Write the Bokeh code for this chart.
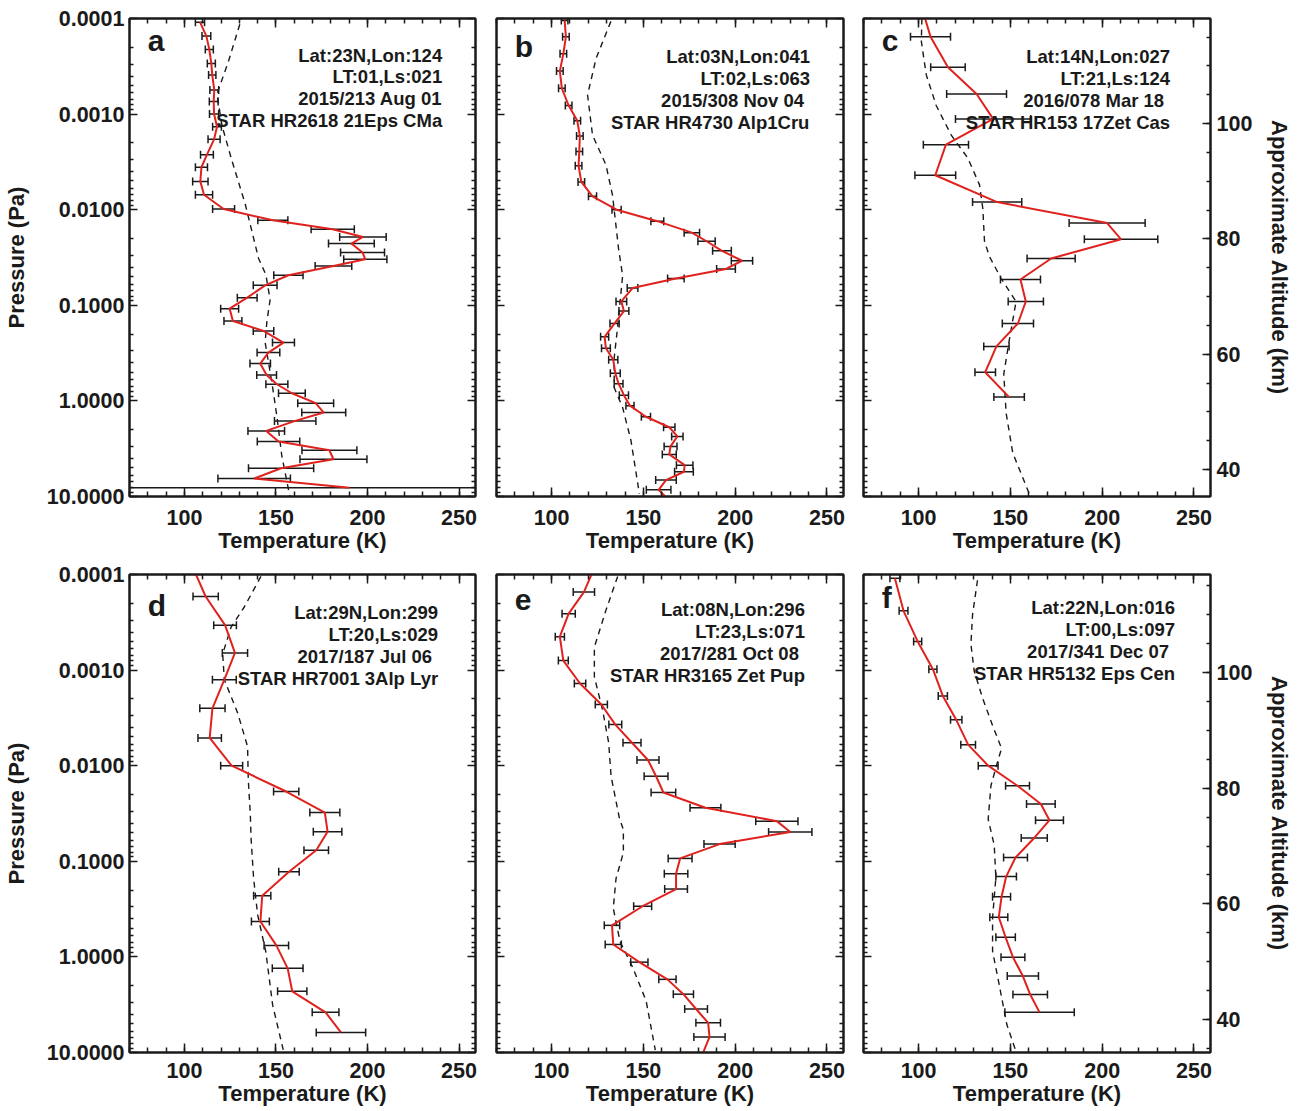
import math
import numpy as np
from bokeh.plotting import figure
from bokeh.layouts import row, column
from bokeh.models import (Range1d, LinearAxis, LogAxis, FixedTicker, SingleIntervalTicker,
                          PrintfTickFormatter, CustomJSTickFormatter, ColumnDataSource,
                          Label, LinearScale)
from bokeh.embed import file_html
from bokeh.resources import INLINE

# ---------------- data (temperature K, log10 pressure Pa, 1-sigma K) ----------------
a_T = [108.5, 112, 113.6, 114.7, 115.2, 116.3, 116, 116.2, 117.8, 116.2, 112.3, 109.3, 108.7, 110.7,
       121.4, 148.3, 181, 197.5, 191.2, 197.3, 198.8, 181.4, 156.8, 144.1, 134.3, 124.7, 126.5, 143.2,
       154.1, 145.9, 141.4, 144.9, 150.5, 158.7, 171.7, 176.1, 160.5, 144.7, 151.4, 179.2, 181.4,
       152.8, 138.1, 190.2]
a_logp = [-3.962, -3.816, -3.677, -3.528, -3.410, -3.253, -3.132, -3.0, -2.868, -2.736, -2.576,
          -2.444, -2.295, -2.156, -2.007, -1.889, -1.795, -1.715, -1.646, -1.553, -1.481, -1.411,
          -1.314, -1.209, -1.080, -0.965, -0.836, -0.732, -0.610, -0.505, -0.390, -0.272, -0.174,
          -0.080, 0.024, 0.122, 0.209, 0.314, 0.425, 0.516, 0.610, 0.704, 0.812, 0.909]
a_err = [2.5, 2.4, 2.2, 2.2, 2.0, 2.4, 2.4, 2.5, 2.4, 3.3, 3.5, 3.3, 4.2, 4.7, 6.0, 8.2, 11.8, 12.7,
         12.5, 12, 11.8, 10, 8, 6.5, 5.4, 4.9, 4.9, 5.6, 6, 6.2, 5.6, 5.4, 6, 7.3, 9.8, 12, 11.3, 10,
         11.6, 15, 18.3, 17.8, 19.8, 200]
a_dash_T = [132, 124.2, 117.8, 120.5, 126, 133.2, 140.5, 144.5, 146.8, 145, 144.1, 147.8, 150.5,
            153.2, 157.7]
a_dash_logp = [-4.05, -3.56, -3.21, -2.88, -2.51, -2.06, -1.49, -1.32, -1.06, -0.82, -0.61, -0.19,
               0.16, 0.575, 1.01]

b_T = [107.1, 107.8, 106.4, 104.5, 105.6, 109.3, 114, 115.4, 115.1, 114.7, 116.2, 122.3, 135.4,
       157.6, 176.4, 184.4, 192.8, 203.7, 195, 167.7, 144.1, 138, 139.4, 134.3, 128.9, 129.6, 133.6,
       134.7, 136.5, 139.4, 142.7, 151.4, 164.1, 168.5, 164.8, 164.1, 172.5, 172.1, 162.3, 158.3, 165]
b_logp = [-3.98, -3.81, -3.63, -3.45, -3.27, -3.09, -2.93, -2.77, -2.61, -2.46, -2.29, -2.14, -2.0,
          -1.88, -1.76, -1.67, -1.57, -1.466, -1.38, -1.28, -1.18, -1.04, -0.94, -0.81, -0.67,
          -0.55, -0.43, -0.29, -0.18, -0.06, 0.05, 0.166, 0.276, 0.372, 0.476, 0.56, 0.672, 0.741,
          0.828, 0.93, 1.06]
b_err = [1.8, 1.8, 1.8, 1.8, 1.8, 1.8, 1.8, 1.8, 1.8, 1.8, 1.8, 2.2, 2.5, 3.5, 4.2, 4.7, 5.1, 5.8,
         5.1, 4.5, 2.9, 2.9, 2.7, 2.5, 2.2, 2.4, 2.5, 2.7, 2.4, 2.5, 2.2, 2.5, 3.1, 3.1, 3.5, 3.8,
         4.5, 5.1, 5.6, 6.7, 4]
b_dash_T = [132.3, 124.2, 119.6, 122.3, 129.6, 133.2, 136.5, 138.7, 135.9, 134.1, 134.1, 138.7,
            143.2, 147.8]
b_dash_logp = [-3.97, -3.58, -3.2, -2.78, -2.47, -2.15, -1.59, -1.31, -0.76, -0.45, -0.14, 0.07,
               0.41, 0.97]

c_T = [102, 106.5, 116, 131.6, 140.6, 114.9, 109.1, 142.8, 202.7, 210.3, 172.2, 155.5, 158.4,
       154.1, 142.4, 136.3, 149.3]
c_logp = [-4.1, -3.81, -3.49, -3.21, -2.95, -2.68, -2.36, -2.08, -1.86, -1.69, -1.49, -1.27, -1.04,
          -0.81, -0.57, -0.30, -0.04]
c_err = [10, 10.9, 9.4, 16.3, 20.5, 12.3, 11.1, 13.4, 20.7, 20, 13.1, 10.9, 9.6, 8.5, 6.9, 5.6, 8.3]
c_dash_T = [101.8, 101.5, 104.2, 109.6, 117.8, 126.8, 133.2, 135, 135.9, 138.6, 145, 153.1, 149,
            146.4, 147.7, 151.3, 160.4]
c_dash_logp = [-4.0, -3.76, -3.41, -3.09, -2.78, -2.54, -2.26, -2.01, -1.67, -1.51, -1.28, -1.04,
               -0.59, -0.28, 0.13, 0.545, 0.976]

d_T = [104, 111.6, 122.2, 127.6, 121.8, 115.3, 113.8, 125.8, 155.6, 176.7, 178.2, 172, 157.1,
       142.5, 141.5, 150.2, 156.4, 158.9, 177.1, 185.5]
d_logp = [-4.1, -3.77, -3.47, -3.18, -2.90, -2.60, -2.29, -2.0, -1.73, -1.51, -1.31, -1.115, -0.89,
          -0.64, -0.37, -0.12, 0.12, 0.36, 0.58, 0.79]
d_err = [6, 6.9, 6.2, 6.9, 6.5, 6.9, 6.4, 6, 6.9, 8.2, 7.8, 6.7, 5.6, 4.7, 4.9, 6.7, 8.4, 8, 7.3, 13.5]
d_dash_T = [141.8, 132.7, 125.5, 120.9, 121.8, 129.1, 134.5, 134.9, 136, 136.4, 137.8, 140, 144.5,
            148.2, 154.2]
d_dash_logp = [-3.98, -3.66, -3.45, -3.17, -2.9, -2.55, -2.2, -1.85, -1.49, -1.24, -0.82, -0.44,
               -0.05, 0.505, 0.99]

e_T = [124, 117.6, 109.3, 104.5, 106.4, 115.5, 127.1, 134.7, 143.8, 152.5, 156.9, 160.9, 183.8,
       222.7, 230, 191.5, 170, 167.8, 167.8, 149.6, 132.9, 133.6, 147.8, 163.1, 171.8, 178.7, 185.3,
       186, 181.5]
e_logp = [-4.1, -3.816, -3.59, -3.35, -3.10, -2.86, -2.64, -2.43, -2.24, -2.06, -1.89, -1.72, -1.56,
          -1.42, -1.307, -1.18, -1.03, -0.87, -0.71, -0.53, -0.33, -0.13, 0.055, 0.235, 0.39, 0.545,
          0.69, 0.838, 1.05]
e_err = [5, 5.8, 3.6, 2.5, 2.7, 3.1, 3.3, 3.5, 4.9, 6, 6.5, 6.7, 8.4, 11.5, 11.8, 8.5, 6.5, 6.4, 6.2,
         4.9, 4.2, 4.4, 4.7, 4.7, 5.5, 6.2, 6.7, 8.5, 8]
e_dash_T = [136, 129.6, 123.3, 123.3, 127.8, 131.1, 132.4, 136.9, 139.1, 139.1, 135.1, 133.6, 137.3,
            144.2, 151.5, 156.5]
e_dash_logp = [-3.98, -3.625, -3.24, -2.93, -2.58, -2.24, -1.89, -1.455, -1.33, -1.09, -0.82, -0.51,
               -0.16, 0.11, 0.46, 0.976]

f_T = [87.1, 91.8, 99.5, 107.8, 113.2, 120.5, 127, 137.9, 153.9, 166.6, 171.3, 163, 152.8, 147.7,
       145.2, 143.7, 147.4, 151.4, 156.8, 160.8, 165.9]
f_logp = [-3.96, -3.62, -3.30, -3.01, -2.73, -2.48, -2.22, -2.0, -1.79, -1.60, -1.43, -1.244, -1.04,
          -0.84, -0.63, -0.415, -0.205, 0.003, 0.20, 0.394, 0.58]
f_err = [2.7, 2.4, 2.2, 2.2, 2.5, 3.1, 4, 5.4, 6.5, 7.8, 7.6, 7.1, 6.5, 5.6, 4.9, 4.9, 5.3, 6.5, 8.5,
         9.4, 18.9]
f_dash_T = [132.1, 129.4, 128.5, 130.3, 134.8, 140.3, 145.2, 143, 139.4, 137.9, 141.2, 142.1, 140.3,
            140.3, 143.9, 148.1, 153]
f_dash_logp = [-3.94, -3.58, -3.27, -2.99, -2.71, -2.42, -2.18, -2.04, -1.79, -1.44, -1.17, -0.83,
               -0.41, -0.06, 0.29, 0.71, 0.986]

letters = ["a", "b", "c", "d", "e", "f"]
a_info = ["Lat:23N,Lon:124", "LT:01,Ls:021", "2015/213 Aug 01", "STAR HR2618 21Eps CMa"]
b_info = ["Lat:03N,Lon:041", "LT:02,Ls:063", "2015/308 Nov 04", "STAR HR4730 Alp1Cru"]
c_info = ["Lat:14N,Lon:027", "LT:21,Ls:124", "2016/078 Mar 18", "STAR HR153 17Zet Cas"]
d_info = ["Lat:29N,Lon:299", "LT:20,Ls:029", "2017/187 Jul 06", "STAR HR7001 3Alp Lyr"]
e_info = ["Lat:08N,Lon:296", "LT:23,Ls:071", "2017/281 Oct 08", "STAR HR3165 Zet Pup"]
f_info = ["Lat:22N,Lon:016", "LT:00,Ls:097", "2017/341 Dec 07", "STAR HR5132 Eps Cen"]

pressure_ticks = [1e-4, 1e-3, 1e-2, 1e-1, 1.0, 10.0]
temperature_range = (70, 259)
pressure_range = (10.0, 1e-4)
altitude_ranges = [(35.32, 118.21), (34.3, 116.95)]   # per row, km

# ---------------- styling ----------------
FONT = "Liberation Sans"
INK = "#1a1a1a"
RED = "#e0221e"
FRAME_H = 478
FRAME_W = [346, 347, 347]
BORDER_L = [124, 11, 10]
BORDER_R = [10, 10, 79]
BORDER_T = [18, 10]
BORDER_B = [68, 60]

minor_pressure = [k * 10.0 ** d for d in range(-4, 1) for k in range(2, 10)]


def style_axis(ax, major_in, minor_in, labels):
    ax.major_tick_in = major_in
    ax.major_tick_out = 0
    ax.minor_tick_in = minor_in
    ax.minor_tick_out = 0
    ax.axis_line_width = 2
    ax.axis_line_color = INK
    ax.major_tick_line_width = 1.5
    ax.minor_tick_line_width = 1.5
    ax.major_tick_line_color = INK
    ax.minor_tick_line_color = INK
    ax.major_label_text_font = FONT
    ax.major_label_text_font_style = "bold"
    ax.major_label_text_color = INK
    ax.axis_label_text_font = FONT
    ax.axis_label_text_font_style = "bold"
    ax.axis_label_text_font_size = "22px"
    ax.axis_label_text_color = INK
    if labels:
        ax.major_label_text_font_size = "21.5px"
    else:
        ax.major_label_text_font_size = "0px"
        ax.major_label_standoff = 0
        ax.formatter = CustomJSTickFormatter(code="return ''")


def make_panel(k, T, logp, err, dT, dlogp, info, info_T, info_rel, date_shift, letter_rel):
    col, rw = k % 3, k // 3
    p = figure(frame_width=FRAME_W[col], frame_height=FRAME_H,
               x_range=Range1d(*temperature_range), y_range=Range1d(*pressure_range),
               y_axis_type="log", output_backend="svg", toolbar_location=None,
               min_border_left=BORDER_L[col], min_border_right=BORDER_R[col],
               min_border_top=BORDER_T[rw], min_border_bottom=BORDER_B[rw])
    p.xgrid.visible = False
    p.ygrid.visible = False
    p.outline_line_color = INK
    p.outline_line_width = 2
    p.background_fill_color = "white"
    p.border_fill_color = "white"

    # bottom axis
    xa = p.xaxis[0]
    xa.ticker = SingleIntervalTicker(interval=50, num_minor_ticks=5)
    style_axis(xa, 9, 5, True)
    xa.axis_label = "Temperature (K)"
    xa.major_label_standoff = 13 if rw == 0 else 10
    xa.axis_label_standoff = 0

    # top axis (mirror ticks)
    top = LinearAxis(ticker=SingleIntervalTicker(interval=50, num_minor_ticks=5))
    style_axis(top, 9, 5, False)
    p.add_layout(top, "above")

    # left pressure axis
    ya = p.yaxis[0]
    ya.ticker = FixedTicker(ticks=pressure_ticks, minor_ticks=minor_pressure)
    if col == 0:
        style_axis(ya, 8, 4, True)
        ya.formatter = PrintfTickFormatter(format="%.4f")
        ya.axis_label = "Pressure (Pa)"
        ya.major_label_standoff = 5
        ya.axis_label_standoff = 15
    else:
        style_axis(ya, 8, 4, False)

    # right axis
    if col == 2:
        p.extra_y_ranges = {"alt": Range1d(*altitude_ranges[rw])}
        p.extra_y_scales = {"alt": LinearScale()}
        ra = LinearAxis(y_range_name="alt",
                        ticker=SingleIntervalTicker(interval=20, num_minor_ticks=4))
        style_axis(ra, 8, 4, True)
        ra.axis_label = "Approximate Altitude (km)"
        ra.major_label_standoff = 6
        ra.axis_label_standoff = 12
        p.add_layout(ra, "right")
    else:
        ra = LogAxis(ticker=FixedTicker(ticks=pressure_ticks, minor_ticks=minor_pressure))
        style_axis(ra, 8, 4, False)
        p.add_layout(ra, "right")

    # reference (dashed) profile
    p.line(x=dT, y=list(10.0 ** np.array(dlogp)), line_color=INK, line_width=1.4,
           line_dash="6 5")

    # retrieved profile with error bars
    Ta = np.array(T, dtype=float)
    ea = np.array(err, dtype=float)
    src = ColumnDataSource(dict(T=Ta, p=10.0 ** np.array(logp), lo=Ta - ea, hi=Ta + ea))
    p.segment(x0="lo", y0="p", x1="hi", y1="p", source=src, line_color=INK, line_width=1.5)
    for end in ("lo", "hi"):
        p.scatter(x=end, y="p", source=src, marker="dash", angle=math.pi / 2, size=8,
                  line_color=INK, line_width=1.5)
    p.line(x="T", y="p", source=src, line_color=RED, line_width=2)

    # panel letter
    p.add_layout(Label(x=80, y=10.0 ** (-4 + letter_rel / 95.75), text=letters[k],
                       text_font=FONT, text_font_style="bold", text_font_size="30px",
                       text_color=INK, text_align="left", text_baseline="alphabetic"))
    # info lines
    for i, line in enumerate(info):
        p.add_layout(Label(x=info_T, y=10.0 ** (-4 + info_rel[i] / 95.75), text=line,
                           x_offset=(date_shift if i == 2 else 0),
                           text_font=FONT, text_font_style="bold", text_font_size="18.5px",
                           text_color=INK, text_align="right", text_baseline="middle"))
    return p


pa = make_panel(0, a_T, a_logp, a_err, a_dash_T, a_dash_logp, a_info, 240.8,
                [37, 58, 80, 102], 0, 22)
pb = make_panel(1, b_T, b_logp, b_err, b_dash_T, b_dash_logp, b_info, 240.8,
                [38, 60, 82, 104], -6, 28)
pc = make_panel(2, c_T, c_logp, c_err, c_dash_T, c_dash_logp, c_info, 237.0,
                [38, 60, 82, 104], -6, 22)
pd = make_panel(3, d_T, d_logp, d_err, d_dash_T, d_dash_logp, d_info, 238.6,
                [38, 60, 82, 104], -6, 31)
pe = make_panel(4, e_T, e_logp, e_err, e_dash_T, e_dash_logp, e_info, 238.0,
                [35, 57, 79, 101], -6, 26)
pf = make_panel(5, f_T, f_logp, f_err, f_dash_T, f_dash_logp, f_info, 239.7,
                [33, 55, 77, 99], -6, 23)

layout = column(row(pa, pb, pc), row(pd, pe, pf))
open("out.html", "w").write(file_html(layout, INLINE))
